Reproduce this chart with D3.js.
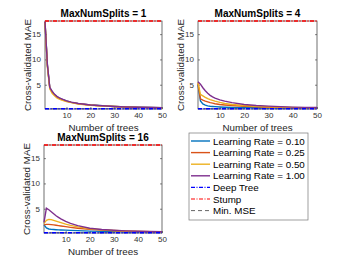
<!DOCTYPE html>
<html><head><meta charset="utf-8">
<script src="https://cdn.jsdelivr.net/npm/d3@7"></script>
<style>
html,body{margin:0;padding:0;background:#fff;}
svg{display:block;font-family:"Liberation Sans",Arial,sans-serif;}
</style></head>
<body><svg id="c" width="350" height="263"></svg>
<script>
const trees = [1,2,3,4,5,6,7,8,10,12,15,20,25,30,35,40,45,50];
const seriesNames = ["Learning Rate = 0.10","Learning Rate = 0.25","Learning Rate = 0.50","Learning Rate = 1.00"];
const seriesColors = ["#0072BD","#D95319","#EDB120","#7E2F8E"];
const panelTitles = ["MaxNumSplits = 1","MaxNumSplits = 4","MaxNumSplits = 16"];
// MaxNumSplits = 1
const s1_lr010 = [17.4,8.9,4.45,3.6,3.0,2.6,2.35,2.15,1.78,1.52,1.27,0.99,0.83,0.7,0.6,0.54,0.5,0.45];
const s1_lr025 = [17.4,8.8,4.4,3.5,2.95,2.55,2.3,2.1,1.75,1.5,1.25,0.98,0.82,0.7,0.6,0.53,0.49,0.45];
const s1_lr050 = [17.3,8.5,4.2,3.3,2.8,2.4,2.15,1.95,1.65,1.45,1.2,0.95,0.8,0.68,0.6,0.52,0.48,0.44];
const s1_lr100 = [17.5,9.0,4.5,3.7,3.1,2.7,2.4,2.2,1.8,1.55,1.3,1.0,0.85,0.7,0.6,0.55,0.5,0.45];
// MaxNumSplits = 4
const s4_lr010 = [5.0,1.8,1.2,0.95,0.82,0.75,0.7,0.66,0.6,0.56,0.52,0.47,0.44,0.42,0.4,0.39,0.38,0.37];
const s4_lr025 = [5.2,2.2,1.95,1.75,1.6,1.45,1.35,1.25,1.1,1.0,0.88,0.72,0.62,0.55,0.5,0.46,0.43,0.41];
const s4_lr050 = [5.4,3.1,2.8,2.5,2.25,2.05,1.9,1.75,1.5,1.3,1.1,0.88,0.74,0.64,0.57,0.52,0.48,0.45];
const s4_lr100 = [5.6,5.1,4.4,3.8,3.3,2.9,2.6,2.35,2.0,1.75,1.45,1.1,0.9,0.76,0.66,0.58,0.53,0.49];
// MaxNumSplits = 16
const s16_lr010 = [1.8,1.2,1.0,0.92,0.88,0.85,0.82,0.8,0.76,0.72,0.66,0.58,0.52,0.47,0.44,0.42,0.4,0.38];
const s16_lr025 = [1.8,1.9,1.9,1.85,1.8,1.72,1.65,1.58,1.45,1.32,1.15,0.92,0.76,0.64,0.56,0.5,0.46,0.43];
const s16_lr050 = [2.1,2.7,2.9,2.85,2.7,2.55,2.4,2.25,1.95,1.7,1.4,1.05,0.84,0.7,0.6,0.53,0.48,0.44];
const s16_lr100 = [2.3,5.1,4.8,4.4,4.0,3.6,3.3,3.0,2.5,2.1,1.65,1.15,0.9,0.74,0.63,0.55,0.5,0.46];
const deepTree = 0.25;
const stump = 17.6;
const minMSE = 0.25;
const xTicks = [10,20,30,40,50];
const yTicks = [5,10,15];
const legendNames = seriesNames.concat(["Deep Tree","Stump","Min. MSE"]);

const panels = [
  {title: panelTitles[0], data:[s1_lr010,s1_lr025,s1_lr050,s1_lr100], x0:45, x1:162, y0:21, y1:109},
  {title: panelTitles[1], data:[s4_lr010,s4_lr025,s4_lr050,s4_lr100], x0:198, x1:317, y0:21, y1:109},
  {title: panelTitles[2], data:[s16_lr010,s16_lr025,s16_lr050,s16_lr100], x0:44, x1:162, y0:145, y1:233}
];
const svg = d3.select("#c");
const axisCol = "#333";
const tickCol = "#333";

panels.forEach(p => {
  const x = d3.scaleLinear().domain([1,50]).range([p.x0,p.x1]);
  const y = d3.scaleLinear().domain([0.2,17.6]).range([p.y1,p.y0]);
  const g = svg.append("g");
  const xa = d3.axisBottom(x).tickValues(xTicks).tickSize(-2).tickPadding(3);
  const ga = g.append("g").attr("transform",`translate(0,${p.y1})`).call(xa);
  ga.select(".domain").remove();
  ga.selectAll("line").attr("stroke",axisCol).attr("stroke-width",0.6);
  ga.selectAll("text").attr("font-size","8px").attr("fill",tickCol).attr("font-family","Liberation Sans, Arial");
  const ya = d3.axisLeft(y).tickValues(yTicks).tickSize(-2).tickPadding(4);
  const gy = g.append("g").attr("transform",`translate(${p.x0},0)`).call(ya);
  gy.select(".domain").remove();
  gy.selectAll("line").attr("stroke",axisCol).attr("stroke-width",0.6);
  gy.selectAll("text").attr("font-size","8px").attr("fill",tickCol).attr("font-family","Liberation Sans, Arial");
  const yr = d3.axisRight(y).tickValues(yTicks).tickSize(-2).tickFormat("");
  const gr = g.append("g").attr("transform",`translate(${p.x1},0)`).call(yr);
  gr.select(".domain").remove();
  gr.selectAll("line").attr("stroke",axisCol).attr("stroke-width",0.6);
  g.append("rect").attr("x",p.x0).attr("y",p.y0).attr("width",p.x1-p.x0).attr("height",p.y1-p.y0)
    .attr("fill","none").attr("stroke",axisCol).attr("stroke-width",0.7);
  const line = d3.line().x((d,i)=>x(trees[i])).y(d=>y(d));
  g.append("line").attr("x1",x(1)).attr("x2",x(50)).attr("y1",y(minMSE)).attr("y2",y(minMSE))
    .attr("stroke","#666").attr("stroke-width",1).attr("stroke-dasharray","4,2");
  p.data.forEach((s,i)=>{
    g.append("path").attr("d",line(s)).attr("fill","none").attr("stroke",seriesColors[i]).attr("stroke-width",1.4);
  });
  g.append("line").attr("x1",x(1)).attr("x2",x(50)).attr("y1",y(deepTree)).attr("y2",y(deepTree))
    .attr("stroke","#0000ff").attr("stroke-width",1.4).attr("stroke-dasharray","4,1.5,1,1.5");
  g.append("line").attr("x1",x(1)).attr("x2",x(50)).attr("y1",y(stump)).attr("y2",y(stump))
    .attr("stroke","#ff0000").attr("stroke-width",1.3).attr("stroke-dasharray","4,1.5,1,1.5");
  g.append("text").attr("x",(p.x0+p.x1)/2).attr("y",p.y0-4).attr("text-anchor","middle")
    .attr("font-weight","bold").attr("font-size","10px").attr("fill","#000").text(p.title);
  g.append("text").attr("x",(p.x0+p.x1)/2).attr("y",p.y1+22).attr("text-anchor","middle")
    .attr("font-size","9.8px").attr("fill","#262626").text("Number of trees");
  g.append("text").attr("transform",`translate(${p.x0-14},${(p.y0+p.y1)/2}) rotate(-90)`)
    .attr("text-anchor","middle").attr("font-size","9.8px").attr("fill","#262626").text("Cross-validated MAE");
});

const lg = svg.append("g");
const lx = 189, ly = 133, lw = 119, lh = 87, rowH = 11.6;
lg.append("rect").attr("x",lx).attr("y",ly).attr("width",lw).attr("height",lh)
  .attr("fill","#fff").attr("stroke","#777").attr("stroke-width",0.7);
const legStyles = [
  {c:seriesColors[0], d:null, w:1.4},
  {c:seriesColors[1], d:null, w:1.4},
  {c:seriesColors[2], d:null, w:1.4},
  {c:seriesColors[3], d:null, w:1.4},
  {c:"#0000ff", d:"4,1.5,1,1.5", w:1.1},
  {c:"#ff0000", d:"4,1.5,1,1.5", w:1.1},
  {c:"#666", d:"4,3", w:1}
];
legendNames.forEach((n,i)=>{
  const yy = ly + 8 + i*rowH;
  const l = lg.append("line").attr("x1",lx+2).attr("x2",lx+21).attr("y1",yy).attr("y2",yy)
    .attr("stroke",legStyles[i].c).attr("stroke-width",legStyles[i].w);
  if (legStyles[i].d) l.attr("stroke-dasharray",legStyles[i].d);
  lg.append("text").attr("x",lx+24).attr("y",yy+3.5).attr("font-size","9.8px").attr("fill","#000").text(n);
});
</script></body></html>
